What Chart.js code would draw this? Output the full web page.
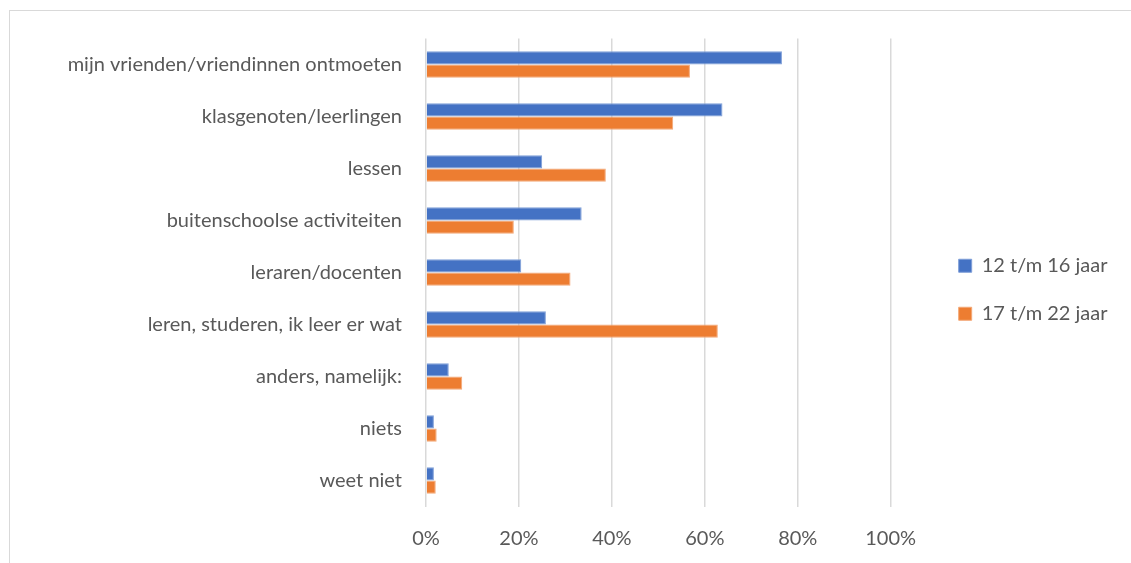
<!DOCTYPE html>
<html>
<head>
<meta charset="utf-8">
<script src="https://cdn.jsdelivr.net/npm/chart.js@4"></script>
<style>
	html, body { margin: 0; padding: 0; background: #fff; overflow: hidden; }
	.frame { position: absolute; left: 9px; top: 10px; width: 1200px; height: 600px; border-left: 1px solid #d9d9d9; border-top: 1px solid #d9d9d9; }
	#chart { position: absolute; left: 0; top: 0; }
</style>
</head>
<body>
<div class="frame"></div>
<canvas id="chart" width="1131" height="563"></canvas>
<script>
const categories = [
	'mijn vrienden/vriendinnen ontmoeten',
	'klasgenoten/leerlingen',
	'lessen',
	'buitenschoolse activiteiten',
	'leraren/docenten',
	'leren, studeren, ik leer er wat',
	'anders, namelijk:',
	'niets',
	'weet niet',
];
const young = [76.6, 63.8, 25.0, 33.5, 20.5, 25.8, 4.9, 1.7, 1.7];
const old = [56.8, 53.2, 38.7, 18.9, 31.1, 62.8, 7.8, 2.3, 2.1];
const seriesNames = ['12 t/m 16 jaar', '17 t/m 22 jaar'];
const xTicks = [0, 20, 40, 60, 80, 100];

const textColor = '#595959';
const font = { family: 'Lato, "Open Sans", sans-serif', size: 20 };

// nudge the legend to where Excel put it
const legendPlace = {
	id: 'legendPlace',
	afterLayout(chart) {
		const lg = chart.legend;
		lg.left += 40;
		lg.right += 40;
		lg.top -= 11;
		lg.bottom -= 11;
	},
};

new Chart(document.getElementById('chart'), {
	type: 'bar',
	data: {
		labels: categories,
		datasets: [
			{ label: seriesNames[0], data: young, backgroundColor: '#4472c4', borderColor: '#7f9fd8', borderWidth: 1 },
			{ label: seriesNames[1], data: old, backgroundColor: '#ed7d31', borderColor: '#f3a877', borderWidth: 1 },
		],
	},
	options: {
		indexAxis: 'y',
		responsive: false,
		animation: false,
		devicePixelRatio: 1,
		layout: { padding: { top: 38.5, bottom: 0, left: 0, right: 53.5 } },
		datasets: { bar: { categoryPercentage: 0.513, barPercentage: 1 } },
		plugins: {
			tooltip: { enabled: false },
			legend: {
				position: 'right',
				labels: { boxWidth: 13, boxHeight: 13, padding: 28, color: textColor, font },
			},
		},
		scales: {
			x: {
				min: 0,
				max: 100,
				afterBuildTicks: (s) => { s.ticks = xTicks.map((v) => ({ value: v })); },
				afterFit: (s) => { s.height = 563 - 506.5; },
				grid: { color: '#d9d9d9', lineWidth: 1.5, drawTicks: false },
				border: { display: false },
				ticks: { padding: 20, color: textColor, font, callback: (v) => v + '%' },
			},
			y: {
				afterFit: (s) => { s.width = 426; },
				grid: { display: false },
				border: { display: false },
				ticks: { padding: 16, color: textColor, font },
			},
		},
	},
	plugins: [legendPlace],
});
</script>
</body>
</html>
